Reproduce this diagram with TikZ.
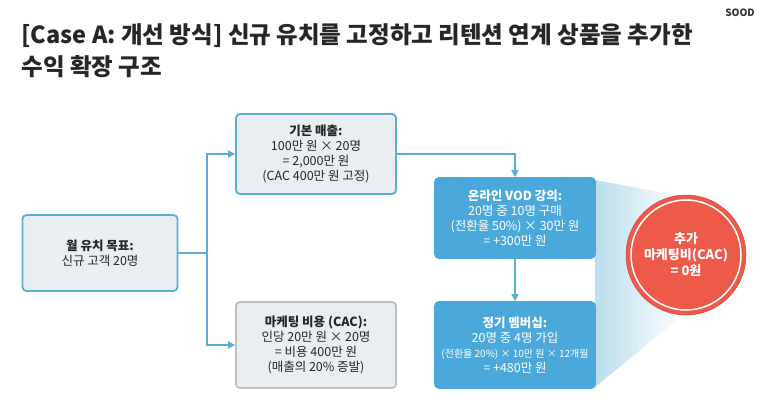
\documentclass[tikz,border=0pt]{standalone}
\usepackage{fontspec}
\setmainfont{Noto Sans CJK KR}
\usetikzlibrary{arrows.meta}
\definecolor{bl}{HTML}{5AAED6}
\definecolor{blf}{HTML}{4BA8DA}
\definecolor{gr}{HTML}{E9EEF2}
\definecolor{rd}{HTML}{EE5A4A}
\begin{document}
\begin{tikzpicture}[x=1pt,y=-1pt,
 box/.style={draw=bl,line width=1.8pt,fill=gr,rounded corners=4pt,minimum width=160pt,align=center,font=\fontsize{12.5}{15}\selectfont,text=black!85},
 bbox/.style={box,draw=blf,fill=blf,text=white},
 gbox/.style={box,draw=black!25},
 con/.style={draw=bl,line width=1.8pt,-{Triangle[length=7pt,width=7pt]}}]
\useasboundingbox (0,0) rectangle (773,413);
\node[anchor=north west,font=\fontsize{23.5}{32}\selectfont\bfseries,align=left,text=black!85] (title) at (18,20) {[Case A: 개선 방식] 신규 유치를 고정하고 리텐션 연계 상품을 추가한\\수익 확장 구조};
\node[font=\fontsize{10}{11}\selectfont\bfseries,text=black!80] (logo) at (740,13) {SOOD};
\shade[left color=bl!55,right color=white,opacity=0.75] (595,180) -- (686,197) -- (686,313) -- (595,387) -- cycle;
\node[box,minimum width=155pt,minimum height=76pt] (goal) at (100,253) {\textbf{월 유치 목표:}\\신규 고객 20명};
\node[box,minimum height=80pt] (base) at (316,154) {\textbf{기본 매출:}\\100만 원 × 20명\\= 2,000만 원\\(CAC 400만 원 고정)};
\node[gbox,minimum height=86pt] (mkt) at (316,345) {\textbf{마케팅 비용 (CAC):}\\인당 20만 원 × 20명\\= 비용 400만 원\\(매출의 20\% 증발)};
\node[bbox,minimum height=80pt] (vod) at (515,218) {\textbf{온라인 VOD 강의:}\\20명 중 10명 구매\\(전환율 50\%) × 30만 원\\= +300만 원};
\node[bbox,minimum height=86pt] (mem) at (515,345) {\textbf{정기 멤버십:}\\20명 중 4명 가입\\{\fontsize{10}{15}\selectfont(전환율 20\%) × 10만 원 × 12개월}\\= +480만 원};
\node[circle,fill=rd,draw=rd!85!black,line width=0.5pt,minimum size=120pt,text=white,align=center,font=\fontsize{13}{16}\selectfont\bfseries] (cac) at (686,255) {추가\\마케팅비(CAC)\\= 0원};
\draw[white,line width=1.5pt] (cac.center) circle (55pt);
\coordinate (j) at (207,253);
\draw[con] (goal.east) -- (j) |- (base.west);
\draw[con] (j) |- (mkt.west);
\draw[con] (base.east) -| (vod.north);
\draw[con] (vod.south) -- (mem.north);
\end{tikzpicture}
\end{document}
